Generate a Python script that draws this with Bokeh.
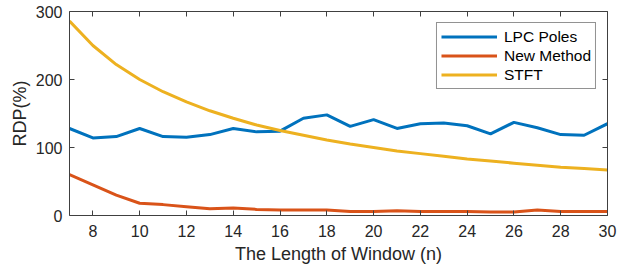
from bokeh.plotting import figure
from bokeh.models import LinearAxis, Range1d, FixedTicker, Legend, LegendItem
from bokeh.embed import file_html
from bokeh.resources import INLINE

window_n = list(range(7, 31))
lpc_poles = [128, 114, 116, 128, 116, 115, 119, 128, 123, 124, 143, 148, 131, 141,
             128, 135, 136, 132, 120, 137, 129, 119, 118, 135]
new_method = [60, 45, 30, 18, 16, 13, 10, 11, 9, 8, 8, 8, 6, 6,
              7, 6, 6, 6, 5, 5, 8, 6, 6, 6]
stft = [286, 250, 222, 200, 182, 167, 154, 143, 133, 125, 118, 111, 105, 100,
        95, 91, 87, 83, 80, 77, 74, 71, 69, 67]
x_ticks = list(range(8, 31, 2))
y_ticks = [0, 100, 200, 300]

FONT = "Liberation Sans"
AX = "#404040"

p = figure(width=626, height=267, output_backend="svg", toolbar_location=None,
           x_range=Range1d(7, 30), y_range=Range1d(0, 300),
           min_border_left=69, min_border_right=19, min_border_top=11, min_border_bottom=52)
p.grid.visible = False
p.outline_line_color = None

c_lpc = "#0072BD"
c_new = "#D95319"
c_stft = "#EDB120"
r1 = p.line(window_n, lpc_poles, line_color=c_lpc, line_width=3)
r2 = p.line(window_n, new_method, line_color=c_new, line_width=3)
r3 = p.line(window_n, stft, line_color=c_stft, line_width=3)

def style(ax, labels=True):
    ax.axis_line_color = AX
    ax.major_tick_line_color = AX
    ax.major_tick_in = 5
    ax.major_tick_out = 0
    ax.minor_tick_line_color = None
    ax.major_label_text_font = FONT
    ax.major_label_text_font_size = "16px"
    ax.major_label_text_color = "#262626"
    if not labels:
        ax.major_label_text_alpha = 0

p.xaxis.ticker = FixedTicker(ticks=x_ticks)
p.yaxis.ticker = FixedTicker(ticks=y_ticks)
style(p.xaxis[0])
style(p.yaxis[0])
p.xaxis.axis_label = "The Length of Window (n)"
p.yaxis.axis_label = "RDP(%)"
for ax in (p.xaxis[0], p.yaxis[0]):
    ax.axis_label_text_font = FONT
    ax.axis_label_text_font_size = "18px"
    ax.axis_label_text_font_style = "normal"
    ax.axis_label_text_color = "#262626"
p.xaxis.axis_label_standoff = 4
p.yaxis.axis_label_standoff = 3
p.xaxis.major_label_standoff = 9
p.yaxis.major_label_standoff = 7

top = LinearAxis(ticker=FixedTicker(ticks=x_ticks))
right = LinearAxis(ticker=FixedTicker(ticks=y_ticks))
style(top, False)
style(right, False)
p.add_layout(top, "above")
p.add_layout(right, "right")

legend = Legend(items=[LegendItem(label="LPC Poles", renderers=[r1]),
                       LegendItem(label="New Method", renderers=[r2]),
                       LegendItem(label="STFT", renderers=[r3])],
                location="top_right")
legend.margin = 11
legend.padding = 4
legend.spacing = 0
legend.glyph_width = 56
legend.glyph_height = 19
legend.label_height = 19
legend.label_standoff = 7
legend.label_text_font = FONT
legend.label_text_font_size = "15.5px"
legend.label_text_color = "#000000"
legend.border_line_color = "#262626"
legend.border_line_width = 1
legend.background_fill_color = "white"
legend.background_fill_alpha = 1
p.add_layout(legend, "center")

open("out.html", "w").write(file_html(p, INLINE))
